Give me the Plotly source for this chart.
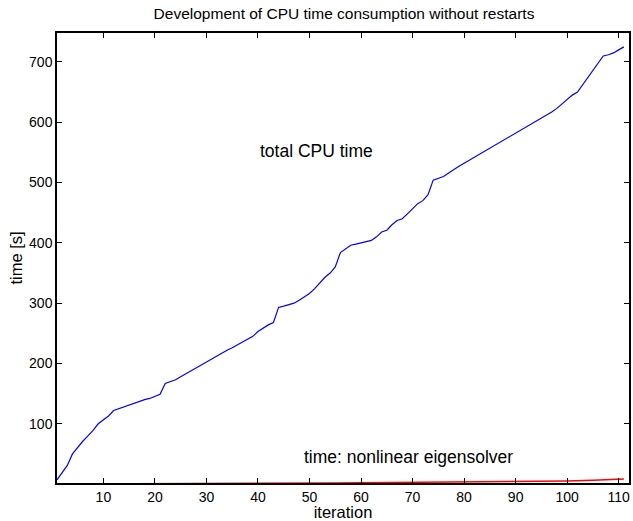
import plotly.graph_objects as go

# total CPU time per iteration
iteration = list(range(1, 112))
total_cpu = [7, 18, 31, 50, 61, 71, 80, 89, 100, 106,
             113, 122, 125, 128, 132, 134, 137, 140, 142, 145,
             149, 167, 170, 173, 178, 183, 188, 193, 198, 203,
             208, 212, 217, 222, 226, 231, 235, 240, 245, 253,
             259, 264, 268, 293, 295, 297, 300, 305, 310, 316,
             324, 333, 343, 350, 360, 384, 390, 396, 398, 400,
             402, 404, 410, 418, 421, 430, 437, 440, 448, 456,
             465, 470, 480, 504, 507, 510, 516, 522, 527, 532,
             537, 542, 547, 552, 557, 562, 567, 572, 577, 582,
             587, 592, 596, 602, 607, 612, 617, 623, 630, 638,
             645, 650, 662, 672, 684, 696, 710, 712, 715, 720,
             725]

# time spent in the nonlinear eigensolver
eig_iter = [1, 10, 20, 30, 40, 50, 55, 60, 70, 80, 90, 100, 105, 111]
eig_time = [0.1, 0.2, 0.3, 0.5, 0.7, 1.0, 1.8, 2.2, 2.8, 3.4, 4.2, 5.2, 6.2, 8.5]

font = "Liberation Sans, Arial, sans-serif"

fig = go.Figure()
fig.add_trace(go.Scatter(x=iteration, y=total_cpu, mode="lines",
                         line=dict(color="#0000ff", width=1.2)))
fig.add_trace(go.Scatter(x=eig_iter, y=eig_time, mode="lines",
                         line=dict(color="#ff0000", width=1.5)))

fig.add_annotation(x=40, y=553, text="total CPU time", showarrow=False,
                   xanchor="left", font=dict(size=17.5, color="black"))
fig.add_annotation(x=48.6, y=45, text="time: nonlinear eigensolver", showarrow=False,
                   xanchor="left", font=dict(size=17.5, color="black"))

axis_common = dict(showline=True, linecolor="black", linewidth=1.5, mirror="ticks",
                   ticks="inside", ticklen=5, tickcolor="black", showgrid=False,
                   zeroline=False, tickfont=dict(size=14, color="black"))

fig.update_layout(
    width=633, height=521,
    margin=dict(l=57, r=2, t=33, b=38),
    paper_bgcolor="white", plot_bgcolor="white",
    font=dict(family=font, color="black"),
    showlegend=False,
    title=dict(text="Development of CPU time consumption without restarts",
               x=344 / 633, xanchor="center",
               y=1 - 14 / 521, yanchor="middle", font=dict(size=15.5)),
    xaxis=dict(range=[1, 112], tickvals=list(range(10, 111, 10)),
               title=dict(text="iteration", standoff=2, font=dict(size=16.5)),
               **axis_common),
    yaxis=dict(range=[1.8, 748], tickvals=list(range(100, 701, 100)),
               title=dict(text="time [s]", standoff=2, font=dict(size=16.5)),
               **axis_common),
)

fig.write_html("out.html", config={"displayModeBar": False},
               post_script="document.body.style.margin='0';")
